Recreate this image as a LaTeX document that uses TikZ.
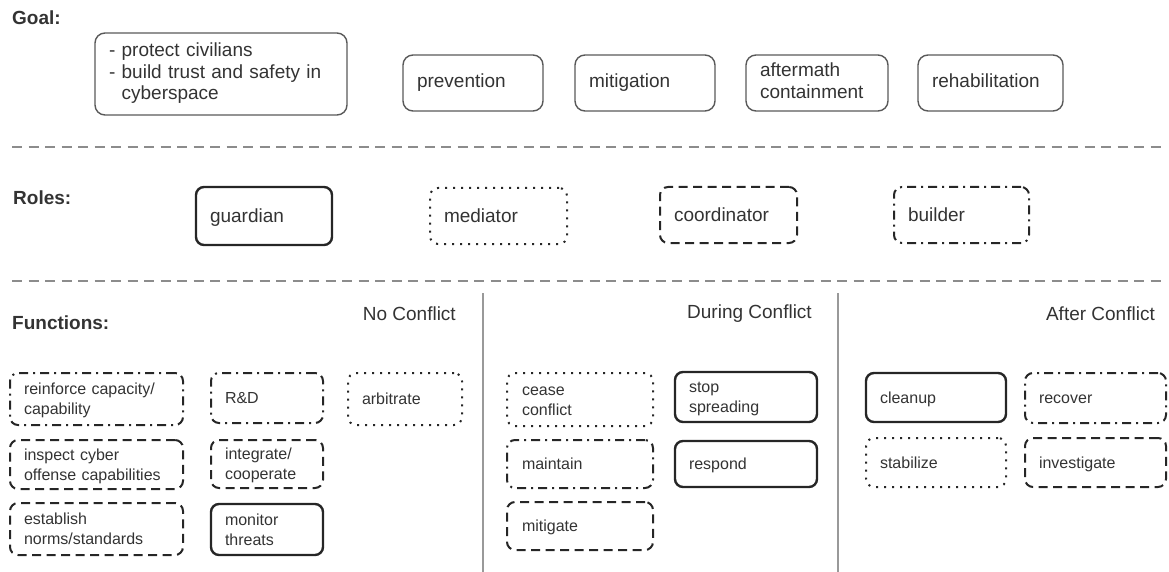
\documentclass[tikz,border=0pt]{standalone}
\usepackage{fontspec}
\setmainfont{Liberation Sans}
\newcommand\lowstrut{\rule[-0.21\baselineskip]{0pt}{\baselineskip}}
\begin{document}
\begin{tikzpicture}[x=1pt,y=-1pt,
  txt/.style={text=black!80},
  bigf/.style={font=\fontsize{19}{21.5}\selectfont},
  smallf/.style={font=\fontsize{16}{20}\selectfont},
  hdr/.style={txt,bigf,inner sep=0pt},
  hdrb/.style={txt,font=\fontsize{19}{21.5}\selectfont\bfseries,inner sep=0pt},
  strutted/.style={execute at begin node=\strut, execute at end node=\strut},
  lowstrutted/.style={execute at begin node=\lowstrut, execute at end node=\lowstrut},
  goalbox/.style={draw=black!65,line width=1.4pt,rounded corners=10pt,txt,bigf,align=left,inner xsep=14pt,inner ysep=0pt,strutted},
  fbox/.style={draw=black!85,line width=2pt,rounded corners=8pt,txt,align=left,inner xsep=14pt,inner ysep=0pt,lowstrutted},
  solidb/.style={fbox,line width=2.4pt},
  dotb/.style={fbox,dash pattern=on 2pt off 6pt},
  dashb/.style={fbox,dash pattern=on 9pt off 5.5pt},
  dashdotb/.style={fbox,dash pattern=on 9pt off 5pt on 2pt off 5pt},
  sep/.style={draw=black!45,line width=1.4pt,dash pattern=on 10pt off 6.5pt},
  vsep/.style={draw=black!40,line width=2pt}
]
\useasboundingbox (0,0) rectangle (1169,572);

% Goal row
\node[hdrb,anchor=west] (goal) at (12,18) {Goal:};
\node[goalbox,minimum width=252pt,minimum height=82pt,text width=224pt] (g1) at (221,74)
  {- protect civilians\\- build trust and safety in\\\phantom{- }cyberspace};
\node[goalbox,minimum width=140pt,minimum height=56pt,text width=112pt] (g2) at (473,83) {prevention};
\node[goalbox,minimum width=140pt,minimum height=56pt,text width=112pt] (g3) at (645,83) {mitigation};
\node[goalbox,minimum width=142pt,minimum height=56pt,text width=114pt] (g4) at (817,83) {aftermath\\containment};
\node[goalbox,minimum width=145pt,minimum height=56pt,text width=117pt] (g5) at (990.5,83) {rehabilitation};

\coordinate (s1a) at (12,147); \coordinate (s1b) at (1162,147);
\draw[sep] (s1a) -- (s1b);

% Roles row
\node[hdrb,anchor=west] (roles) at (13,198) {Roles:};
\node[solidb,bigf,minimum width=136pt,minimum height=58pt,text width=108pt] (r1) at (264,216) {guardian};
\node[dotb,bigf,minimum width=137pt,minimum height=56pt,text width=109pt] (r2) at (498.5,216) {mediator};
\node[dashb,bigf,minimum width=137pt,minimum height=56pt,text width=109pt] (r3) at (728.5,215) {coordinator};
\node[dashdotb,bigf,minimum width=135pt,minimum height=56pt,text width=107pt] (r4) at (961.5,215) {builder};

\coordinate (s2a) at (12,281); \coordinate (s2b) at (1162,281);
\draw[sep] (s2a) -- (s2b);

% Functions
\coordinate (v1a) at (483,293); \coordinate (v1b) at (483,572);
\coordinate (v2a) at (838,293); \coordinate (v2b) at (838,572);
\draw[vsep] (v1a) -- (v1b);
\draw[vsep] (v2a) -- (v2b);

\node[hdrb,anchor=west] (func) at (12,323) {Functions:};
\node[hdr,anchor=east] (h1) at (456,314) {No Conflict};
\node[hdr,anchor=east] (h2) at (812,314) {During Conflict};
\node[hdr,anchor=east] (h3) at (1155,314) {After Conflict};

% No conflict
\node[dashdotb,smallf,minimum width=173pt,minimum height=52pt,text width=145pt] (f1) at (96.5,399) {reinforce capacity/\\capability};
\node[dashb,smallf,minimum width=173pt,minimum height=49pt,text width=145pt] (f2) at (96.5,464.5) {inspect cyber\\offense capabilities};
\node[dashb,smallf,minimum width=173pt,minimum height=52pt,text width=145pt] (f3) at (96.5,529) {establish\\norms/standards};
\node[dashdotb,smallf,minimum width=112pt,minimum height=50pt,text width=84pt] (f4) at (267,398) {R\&D};
\node[dashb,smallf,minimum width=112pt,minimum height=48pt,text width=84pt] (f5) at (267,464) {integrate/\\cooperate};
\node[solidb,smallf,minimum width=112pt,minimum height=51pt,text width=84pt] (f6) at (267,529.5) {monitor\\threats};
\node[dotb,smallf,minimum width=114pt,minimum height=52pt,text width=86pt] (f7) at (405,399) {arbitrate};

% During conflict
\node[dotb,smallf,minimum width=146pt,minimum height=53pt,text width=116pt] (d1) at (580,399.5) {cease\\conflict};
\node[dashdotb,smallf,minimum width=146pt,minimum height=48pt,text width=116pt] (d2) at (580,464) {maintain};
\node[dashb,smallf,minimum width=146pt,minimum height=48pt,text width=116pt] (d3) at (580,526) {mitigate};
\node[solidb,smallf,minimum width=142pt,minimum height=50pt,text width=114pt] (d4) at (746,397) {stop\\spreading};
\node[solidb,smallf,minimum width=142pt,minimum height=46pt,text width=114pt] (d5) at (746,464) {respond};

% After conflict
\node[solidb,smallf,minimum width=140pt,minimum height=49pt,text width=112pt] (a1) at (936,397.5) {cleanup};
\node[dashdotb,smallf,minimum width=141pt,minimum height=50pt,text width=113pt] (a2) at (1095.5,398) {recover};
\node[dotb,smallf,minimum width=140pt,minimum height=49pt,text width=112pt] (a3) at (936,462.5) {stabilize};
\node[dashb,smallf,minimum width=141pt,minimum height=49pt,text width=113pt] (a4) at (1095.5,462.5) {investigate};
\end{tikzpicture}
\end{document}
